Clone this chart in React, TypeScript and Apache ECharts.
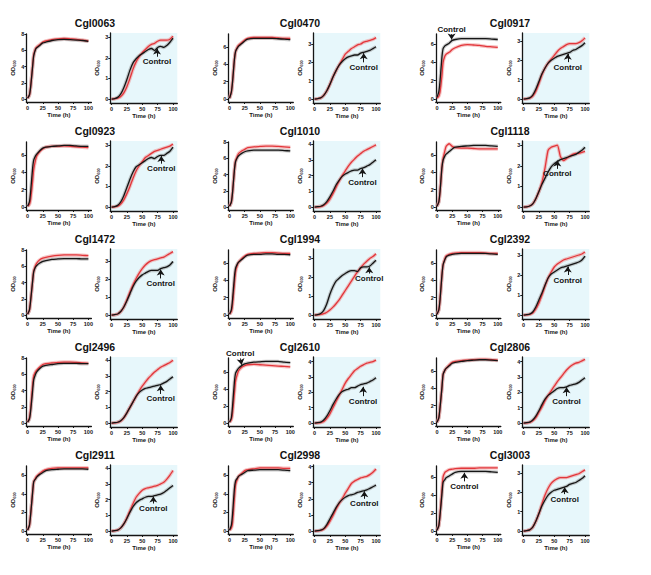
import React, { useEffect, useRef } from 'react';
import * as echarts from 'echarts';

// ---------- time axes ----------
const tGrowth = [0, 3, 5, 8, 10, 13, 15, 20, 25, 30, 40, 50, 60, 70, 80, 90, 100];
const tProd = [0, 5, 10, 15, 20, 25, 30, 35, 40, 45, 50, 55, 60, 65, 70, 75, 80, 85, 90, 95, 100];

// ---------- tick labels ----------
const xTicks = [0, 25, 50, 75, 100];
const yTicksL8 = [0, 2, 4, 6, 8];
const yTicksL6 = [0, 2, 4, 6];
const yTicksR3 = [0, 1, 2, 3];
const yTicksR4 = [0, 1, 2, 3, 4];

const genes = ['Cgl0063', 'Cgl0470', 'Cgl0917', 'Cgl0923', 'Cgl1010', 'Cgl1118', 'Cgl1472', 'Cgl1994', 'Cgl2392', 'Cgl2496', 'Cgl2610', 'Cgl2806', 'Cgl2911', 'Cgl2998', 'Cgl3003'];

// ---------- series values (c = control, m = mutant; L = left panel, R = right panel) ----------
const c0063Lc = [0.1, 0.5, 1.5, 3.8, 5.3, 6.1, 6.3, 6.6, 6.9, 7.0, 7.2, 7.3, 7.35, 7.3, 7.25, 7.2, 7.1];
const c0063Lm = [0.1, 0.5, 1.5, 3.9, 5.4, 6.2, 6.4, 6.7, 7.0, 7.15, 7.3, 7.4, 7.45, 7.4, 7.35, 7.25, 7.15];
const c0063Rc = [0, 0.02, 0.08, 0.25, 0.55, 0.95, 1.4, 1.75, 1.95, 2.1, 2.2, 2.3, 2.4, 2.45, 2.35, 2.5, 2.55, 2.5, 2.6, 2.75, 2.95];
const c0063Rm = [0, 0.01, 0.04, 0.12, 0.3, 0.6, 1.0, 1.45, 1.8, 2.05, 2.25, 2.4, 2.55, 2.65, 2.7, 2.8, 2.85, 2.85, 2.85, 2.9, 3.05];

const c0470Lc = [0.1, 0.8, 2.0, 4.5, 5.5, 5.9, 6.1, 6.4, 6.7, 6.9, 7.0, 7.0, 7.0, 7.0, 6.95, 6.9, 6.85];
const c0470Lm = [0.1, 0.8, 2.0, 4.5, 5.5, 6.0, 6.2, 6.5, 6.8, 7.0, 7.1, 7.1, 7.1, 7.1, 7.05, 7.0, 7.0];
const c0470Rc = [0, 0.02, 0.06, 0.2, 0.45, 0.8, 1.2, 1.55, 1.85, 2.05, 2.2, 2.3, 2.35, 2.4, 2.4, 2.5, 2.55, 2.6, 2.65, 2.75, 2.85];
const c0470Rm = [0, 0.02, 0.06, 0.2, 0.45, 0.8, 1.2, 1.55, 1.85, 2.15, 2.45, 2.6, 2.75, 2.85, 2.95, 3.0, 3.1, 3.15, 3.2, 3.25, 3.35];

const c0917Lc = [0.2, 0.8, 2.0, 4.5, 5.5, 5.8, 5.9, 6.1, 6.4, 6.5, 6.6, 6.6, 6.6, 6.6, 6.6, 6.55, 6.5];
const c0917Lm = [0.1, 0.3, 0.8, 2.5, 4.0, 4.7, 4.9, 5.1, 5.4, 5.6, 5.85, 5.95, 5.9, 5.85, 5.75, 5.7, 5.65];
const c0917Rc = [0, 0.02, 0.06, 0.2, 0.5, 0.9, 1.3, 1.6, 1.85, 2.0, 2.1, 2.2, 2.25, 2.3, 2.35, 2.4, 2.5, 2.55, 2.65, 2.75, 2.9];
const c0917Rm = [0, 0.01, 0.04, 0.15, 0.4, 0.8, 1.25, 1.6, 1.85, 2.05, 2.25, 2.45, 2.6, 2.7, 2.8, 2.85, 2.85, 2.85, 2.9, 3.0, 3.15];

const c0923Lc = [0.1, 0.6, 1.8, 4.3, 5.4, 5.9, 6.1, 6.5, 6.8, 6.9, 7.0, 7.05, 7.1, 7.1, 7.05, 7.0, 7.0];
const c0923Lm = [0.1, 0.3, 0.9, 2.8, 4.3, 5.4, 5.9, 6.4, 6.7, 6.9, 7.0, 7.0, 7.05, 7.0, 6.95, 6.9, 6.85];
const c0923Rc = [0, 0.02, 0.08, 0.25, 0.55, 0.95, 1.35, 1.7, 1.95, 2.05, 2.15, 2.25, 2.35, 2.4, 2.35, 2.45, 2.5, 2.5, 2.6, 2.7, 2.9];
const c0923Rm = [0, 0.01, 0.04, 0.15, 0.35, 0.65, 1.0, 1.4, 1.75, 2.0, 2.2, 2.4, 2.5, 2.6, 2.7, 2.75, 2.8, 2.85, 2.9, 2.95, 3.05];

const c1010Lc = [0.1, 0.6, 1.8, 4.5, 5.6, 6.1, 6.3, 6.6, 6.8, 6.9, 7.0, 7.0, 7.0, 7.0, 7.0, 6.95, 6.9];
const c1010Lm = [0.1, 0.6, 1.8, 4.5, 5.7, 6.3, 6.6, 6.9, 7.1, 7.3, 7.4, 7.45, 7.5, 7.5, 7.45, 7.4, 7.35];
const c1010Rc = [0, 0.02, 0.05, 0.15, 0.35, 0.65, 1.0, 1.4, 1.7, 1.95, 2.1, 2.2, 2.3, 2.35, 2.35, 2.45, 2.5, 2.6, 2.7, 2.85, 3.0];
const c1010Rm = [0, 0.01, 0.03, 0.1, 0.25, 0.5, 0.85, 1.25, 1.65, 2.0, 2.3, 2.6, 2.85, 3.05, 3.25, 3.4, 3.55, 3.65, 3.75, 3.85, 3.95];

const c1118Lc = [0.1, 0.6, 1.8, 4.5, 5.4, 5.9, 6.1, 6.4, 6.7, 6.9, 7.0, 7.05, 7.1, 7.1, 7.1, 7.05, 7.0];
const c1118Lm = [0.1, 0.6, 1.8, 4.5, 5.6, 6.5, 7.0, 7.3, 7.0, 6.85, 6.8, 6.8, 6.75, 6.7, 6.7, 6.7, 6.7];
const c1118Rc = [0, 0.01, 0.05, 0.15, 0.4, 0.75, 1.1, 1.4, 1.7, 1.95, 2.1, 2.2, 2.3, 2.35, 2.4, 2.45, 2.5, 2.55, 2.65, 2.75, 2.9];
const c1118Rm = [0, 0.01, 0.05, 0.15, 0.4, 0.75, 1.2, 1.9, 2.75, 2.9, 2.95, 3.0, 2.45, 2.25, 2.35, 2.45, 2.55, 2.6, 2.6, 2.65, 2.7];

const c1472Lc = [0.1, 0.6, 1.8, 4.0, 5.3, 5.9, 6.1, 6.4, 6.6, 6.7, 6.85, 6.9, 6.95, 6.95, 6.95, 6.9, 6.9];
const c1472Lm = [0.1, 0.6, 1.8, 4.0, 5.4, 6.1, 6.4, 6.8, 7.0, 7.1, 7.25, 7.35, 7.4, 7.4, 7.4, 7.35, 7.3];
const c1472Rc = [0, 0.02, 0.06, 0.2, 0.45, 0.8, 1.2, 1.6, 1.9, 2.1, 2.25, 2.35, 2.45, 2.5, 2.5, 2.5, 2.6, 2.65, 2.7, 2.8, 3.0];
const c1472Rm = [0, 0.02, 0.06, 0.2, 0.45, 0.85, 1.3, 1.7, 2.05, 2.35, 2.6, 2.8, 2.95, 3.05, 3.1, 3.15, 3.2, 3.25, 3.35, 3.45, 3.55];

const c1994Lc = [0.1, 0.6, 1.8, 4.3, 5.4, 5.9, 6.1, 6.4, 6.7, 6.9, 7.0, 7.0, 7.05, 7.05, 7.0, 7.0, 6.95];
const c1994Lm = [0.1, 0.4, 1.2, 3.6, 5.0, 5.8, 6.1, 6.5, 6.8, 7.0, 7.1, 7.15, 7.2, 7.2, 7.15, 7.1, 7.1];
const c1994Rc = [0, 0.02, 0.08, 0.25, 0.6, 1.1, 1.5, 1.8, 1.95, 2.1, 2.2, 2.3, 2.35, 2.35, 2.3, 2.5, 2.55, 2.55, 2.6, 2.75, 2.9];
const c1994Rm = [0, 0.01, 0.03, 0.07, 0.15, 0.27, 0.42, 0.6, 0.8, 1.05, 1.3, 1.55, 1.8, 2.05, 2.3, 2.5, 2.7, 2.85, 3.0, 3.1, 3.25];

const c2392Lc = [0.1, 0.6, 1.8, 4.5, 5.8, 6.4, 6.7, 6.9, 7.0, 7.05, 7.1, 7.1, 7.1, 7.1, 7.1, 7.05, 7.0];
const c2392Lm = [0.1, 0.6, 1.8, 4.5, 5.8, 6.5, 6.8, 7.0, 7.1, 7.15, 7.2, 7.2, 7.2, 7.2, 7.15, 7.1, 7.1];
const c2392Rc = [0, 0.02, 0.05, 0.15, 0.4, 0.75, 1.1, 1.5, 1.85, 2.05, 2.15, 2.25, 2.35, 2.4, 2.45, 2.5, 2.55, 2.6, 2.65, 2.75, 2.95];
const c2392Rm = [0, 0.01, 0.03, 0.1, 0.3, 0.6, 1.0, 1.45, 1.85, 2.15, 2.4, 2.55, 2.65, 2.75, 2.8, 2.85, 2.9, 2.95, 3.0, 3.05, 3.15];

const c2496Lc = [0.1, 0.5, 1.5, 3.8, 5.3, 6.0, 6.3, 6.7, 7.0, 7.1, 7.2, 7.3, 7.35, 7.35, 7.35, 7.3, 7.3];
const c2496Lm = [0.1, 0.6, 1.8, 4.5, 5.8, 6.3, 6.5, 6.9, 7.2, 7.3, 7.4, 7.45, 7.5, 7.5, 7.45, 7.4, 7.35];
const c2496Rc = [0, 0.02, 0.05, 0.15, 0.35, 0.65, 1.0, 1.35, 1.7, 1.95, 2.1, 2.2, 2.25, 2.3, 2.35, 2.4, 2.45, 2.55, 2.65, 2.8, 2.95];
const c2496Rm = [0, 0.01, 0.04, 0.13, 0.33, 0.65, 1.0, 1.35, 1.7, 2.05, 2.35, 2.6, 2.85, 3.05, 3.25, 3.4, 3.55, 3.65, 3.75, 3.85, 4.0];

const c2610Lc = [0.1, 0.6, 2.0, 4.8, 5.9, 6.3, 6.5, 6.8, 7.0, 7.1, 7.2, 7.25, 7.3, 7.3, 7.3, 7.2, 7.15];
const c2610Lm = [0.1, 0.4, 1.2, 3.5, 5.0, 5.8, 6.2, 6.6, 6.8, 6.9, 6.95, 6.9, 6.85, 6.8, 6.75, 6.7, 6.65];
const c2610Rc = [0, 0.02, 0.06, 0.2, 0.45, 0.8, 1.2, 1.55, 1.85, 2.05, 2.15, 2.2, 2.3, 2.3, 2.4, 2.5, 2.55, 2.6, 2.7, 2.8, 2.95];
const c2610Rm = [0, 0.01, 0.03, 0.1, 0.3, 0.6, 1.0, 1.4, 1.8, 2.2, 2.6, 2.9, 3.15, 3.4, 3.55, 3.7, 3.8, 3.9, 3.95, 4.0, 4.1];

const c2806Lc = [0.1, 0.6, 1.8, 4.0, 5.6, 6.1, 6.3, 6.6, 6.9, 7.0, 7.1, 7.2, 7.25, 7.3, 7.3, 7.25, 7.2];
const c2806Lm = [0.1, 0.6, 1.8, 4.0, 5.6, 6.1, 6.3, 6.7, 7.0, 7.1, 7.2, 7.25, 7.3, 7.35, 7.35, 7.3, 7.25];
const c2806Rc = [0, 0.02, 0.06, 0.2, 0.45, 0.8, 1.2, 1.55, 1.8, 1.95, 2.1, 2.25, 2.3, 2.3, 2.35, 2.45, 2.5, 2.55, 2.65, 2.8, 2.95];
const c2806Rm = [0, 0.01, 0.04, 0.15, 0.35, 0.7, 1.05, 1.45, 1.8, 2.1, 2.4, 2.7, 2.95, 3.2, 3.45, 3.65, 3.8, 3.9, 3.95, 4.05, 4.15];

const c2911Lc = [0.1, 0.6, 1.8, 4.0, 5.3, 5.6, 5.8, 6.1, 6.3, 6.5, 6.6, 6.65, 6.7, 6.7, 6.7, 6.7, 6.65];
const c2911Lm = [0.1, 0.6, 1.8, 4.0, 5.3, 5.7, 5.9, 6.2, 6.45, 6.6, 6.75, 6.8, 6.8, 6.8, 6.8, 6.8, 6.8];
const c2911Rc = [0, 0.02, 0.06, 0.2, 0.45, 0.8, 1.2, 1.55, 1.8, 1.95, 2.05, 2.15, 2.2, 2.2, 2.25, 2.3, 2.35, 2.45, 2.6, 2.75, 2.9];
const c2911Rm = [0, 0.02, 0.06, 0.2, 0.45, 0.85, 1.3, 1.75, 2.15, 2.4, 2.6, 2.7, 2.75, 2.8, 2.85, 2.9, 3.0, 3.1, 3.3, 3.55, 3.85];

const c2998Lc = [0.1, 0.6, 1.8, 4.5, 5.4, 5.7, 5.9, 6.1, 6.3, 6.5, 6.55, 6.6, 6.6, 6.6, 6.6, 6.55, 6.5];
const c2998Lm = [0.1, 0.3, 0.9, 3.5, 5.0, 5.6, 5.9, 6.2, 6.5, 6.6, 6.7, 6.8, 6.8, 6.8, 6.8, 6.75, 6.75];
const c2998Rc = [0, 0.02, 0.05, 0.15, 0.4, 0.75, 1.1, 1.45, 1.75, 1.95, 2.1, 2.2, 2.25, 2.3, 2.4, 2.45, 2.5, 2.55, 2.65, 2.75, 2.85];
const c2998Rm = [0, 0.01, 0.04, 0.12, 0.3, 0.6, 0.95, 1.35, 1.7, 2.0, 2.35, 2.65, 2.95, 3.1, 3.2, 3.3, 3.35, 3.4, 3.5, 3.65, 3.85];

const c3003Lc = [0.1, 0.6, 1.8, 4.0, 5.4, 5.7, 5.9, 6.1, 6.3, 6.5, 6.6, 6.6, 6.6, 6.6, 6.6, 6.55, 6.5];
const c3003Lm = [0.1, 0.6, 1.8, 4.5, 6.0, 6.5, 6.6, 6.8, 6.85, 6.9, 6.95, 6.95, 6.95, 7.0, 7.0, 7.0, 7.0];
const c3003Rc = [0, 0.02, 0.06, 0.2, 0.5, 0.9, 1.3, 1.6, 1.85, 2.0, 2.1, 2.15, 2.2, 2.25, 2.3, 2.4, 2.45, 2.5, 2.6, 2.7, 2.85];
const c3003Rm = [0, 0.02, 0.06, 0.2, 0.5, 0.9, 1.4, 1.85, 2.2, 2.45, 2.6, 2.7, 2.75, 2.75, 2.75, 2.8, 2.85, 2.9, 2.95, 3.05, 3.15];

// axis maxima per panel
const leftMax = [8, 7.5, 7.1, 7.5, 8, 7.5, 8, 7.5, 7.5, 8, 7.7, 7.5, 7, 7, 7.2];
const rightMax = [3.2, 3.6, 3.4, 3.2, 4.2, 3.2, 3.7, 3.5, 3.3, 4.2, 4.3, 4.3, 4.2, 4.1, 3.4];

// "Control" arrows: [from, to] in data coordinates (null = none)
const arrowsLeft: (number[][] | null)[] = [null, null, [[24, 7.08], [24, 6.5]], null, null, null, null, null, null, null, [[18, 7.65], [20, 6.9]], null, null, null, [[45, 5.5], [45, 6.45]]];
const arrowsRight: (number[][] | null)[] = [
  [[74, 2.05], [74, 2.45]], [[80, 2.0], [80, 2.5]], [[72, 1.9], [72, 2.33]],
  [[81, 2.1], [81, 2.47]], [[78, 1.9], [78, 2.45]], [[55, 1.85], [55, 2.25]],
  [[80, 2.05], [80, 2.55]], [[89, 2.2], [89, 2.53]], [[72, 2.0], [72, 2.42]],
  [[80, 1.85], [80, 2.4]], [[79, 1.75], [79, 2.36]], [[70, 1.75], [70, 2.33]],
  [[68, 1.75], [68, 2.2]], [[81, 2.0], [81, 2.47]], [[67, 1.9], [67, 2.25]],
];

const growthCtrl = [c0063Lc, c0470Lc, c0917Lc, c0923Lc, c1010Lc, c1118Lc, c1472Lc, c1994Lc, c2392Lc, c2496Lc, c2610Lc, c2806Lc, c2911Lc, c2998Lc, c3003Lc];
const growthMut = [c0063Lm, c0470Lm, c0917Lm, c0923Lm, c1010Lm, c1118Lm, c1472Lm, c1994Lm, c2392Lm, c2496Lm, c2610Lm, c2806Lm, c2911Lm, c2998Lm, c3003Lm];
const prodCtrl = [c0063Rc, c0470Rc, c0917Rc, c0923Rc, c1010Rc, c1118Rc, c1472Rc, c1994Rc, c2392Rc, c2496Rc, c2610Rc, c2806Rc, c2911Rc, c2998Rc, c3003Rc];
const prodMut = [c0063Rm, c0470Rm, c0917Rm, c0923Rm, c1010Rm, c1118Rm, c1472Rm, c1994Rm, c2392Rm, c2496Rm, c2610Rm, c2806Rm, c2911Rm, c2998Rm, c3003Rm];

// ---------- layout ----------
const FONT = 'Liberation Sans, Arial, Helvetica, sans-serif';
const rowTop = [23, 131, 239, 347, 455];
const colLeftGrid = [26.4, 228.3, 435.8];
const colRightGrid = [110.3, 313.3, 522.3];
const colTitle = [95, 300, 510];
const INK = '#151515';
const RED = '#e2363b';

function makeX(gridIndex: number, max: number) {
  return {
    type: 'value', gridIndex, min: -2, max,
    name: 'Time (h)', nameLocation: 'middle', nameGap: 9,
    nameTextStyle: { fontSize: 6, fontWeight: 'bold', color: INK, fontFamily: FONT },
    axisLine: { show: true, onZero: false, lineStyle: { color: INK, width: 1.3 } },
    axisTick: { show: true, length: 2, lineStyle: { color: INK, width: 1 }, customValues: xTicks },
    axisLabel: { fontSize: 5.5, fontWeight: 'bold', color: INK, margin: 3, fontFamily: FONT, customValues: xTicks },
    splitLine: { show: false },
  };
}

function makeY(gridIndex: number, min: number, max: number, ticks: number[]) {
  return {
    type: 'value', gridIndex, min, max,
    name: 'OD{s|600}', nameLocation: 'middle', nameGap: 10,
    nameTextStyle: {
      fontSize: 6, fontWeight: 'bold', color: INK, fontFamily: FONT,
      rich: { s: { fontSize: 4, fontWeight: 'bold', color: INK, fontFamily: FONT, padding: [3, 0, 0, 0] } },
    },
    axisLine: { show: true, onZero: false, lineStyle: { color: INK, width: 1.3 } },
    axisTick: { show: true, length: 2, lineStyle: { color: INK, width: 1 }, customValues: ticks },
    axisLabel: { fontSize: 5.5, fontWeight: 'bold', color: INK, margin: 2, fontFamily: FONT, customValues: ticks },
    splitLine: { show: false },
  };
}

function curveSeries(idx: number, t: number[], ctrl: number[], mut: number[], arrow: number[][] | null) {
  const dc = t.map((x, k) => [x, ctrl[k]]);
  const dm = t.map((x, k) => [x, mut[k]]);
  const base = { type: 'line', xAxisIndex: idx, yAxisIndex: idx, symbol: 'none', smooth: 0.2, silent: true, animation: false };
  const ctrlLine: any = { ...base, data: dc, lineStyle: { color: INK, width: 1.3 }, z: 4 };
  if (arrow) {
    ctrlLine.markLine = {
      silent: true, animation: false, symbol: ['none', 'arrow'], symbolSize: 6,
      lineStyle: { color: INK, width: 1, type: 'solid' },
      label: { show: true, position: 'start', formatter: 'Control', fontSize: 8, fontWeight: 'bold', color: INK, fontFamily: FONT, distance: 1 },
      emphasis: { disabled: true },
      data: [[{ coord: arrow[0] }, { coord: arrow[1] }]],
    };
  }
  return [
    { ...base, data: dc, lineStyle: { color: '#8a8a8a', width: 3.5, opacity: 0.45 }, z: 2 },
    { ...base, data: dm, lineStyle: { color: '#f08a8a', width: 3.5, opacity: 0.5 }, z: 2 },
    ctrlLine,
    { ...base, data: dm, lineStyle: { color: RED, width: 1.3 }, z: 3 },
  ];
}

function buildOption() {
  const grid: any[] = [];
  const xAxis: any[] = [];
  const yAxis: any[] = [];
  const series: any[] = [];
  const title: any[] = [];
  genes.forEach((gene, i) => {
    const r = Math.floor(i / 3);
    const c = i % 3;
    const T = rowTop[r];
    title.push({
      text: gene, left: colTitle[c], top: T - 6, textAlign: 'center', padding: 0,
      textStyle: { fontSize: 10.5, fontWeight: 'bold', color: '#111', fontFamily: FONT },
    });
    const gl = grid.length;
    grid.push({ left: colLeftGrid[c], top: T + 11, width: 65, height: 68 });
    grid.push({ left: colRightGrid[c], top: T + 10, width: 67, height: 70, show: true, backgroundColor: '#e7f7fb', borderWidth: 0 });
    xAxis.push(makeX(gl, 105));
    xAxis.push(makeX(gl + 1, 107));
    const lm = leftMax[i];
    const rm = rightMax[i];
    yAxis.push(makeY(gl, -lm * 0.045, lm, lm >= 8 ? yTicksL8 : yTicksL6));
    yAxis.push(makeY(gl + 1, -rm * 0.06, rm, rm >= 4 ? yTicksR4 : yTicksR3));
    series.push(...curveSeries(gl, tGrowth, growthCtrl[i], growthMut[i], arrowsLeft[i]));
    series.push(...curveSeries(gl + 1, tProd, prodCtrl[i], prodMut[i], arrowsRight[i]));
  });
  return { animation: false, backgroundColor: '#ffffff', title, grid, xAxis, yAxis, series };
}

export default function App() {
  const ref = useRef<HTMLDivElement>(null);
  useEffect(() => {
    if (!ref.current) return;
    const chart = echarts.init(ref.current, null, { renderer: 'svg' });
    chart.setOption(buildOption() as any);
    return () => chart.dispose();
  }, []);
  return <div ref={ref} style={{ position: 'absolute', left: 0, top: 0, width: 651, height: 575 }} />;
}
